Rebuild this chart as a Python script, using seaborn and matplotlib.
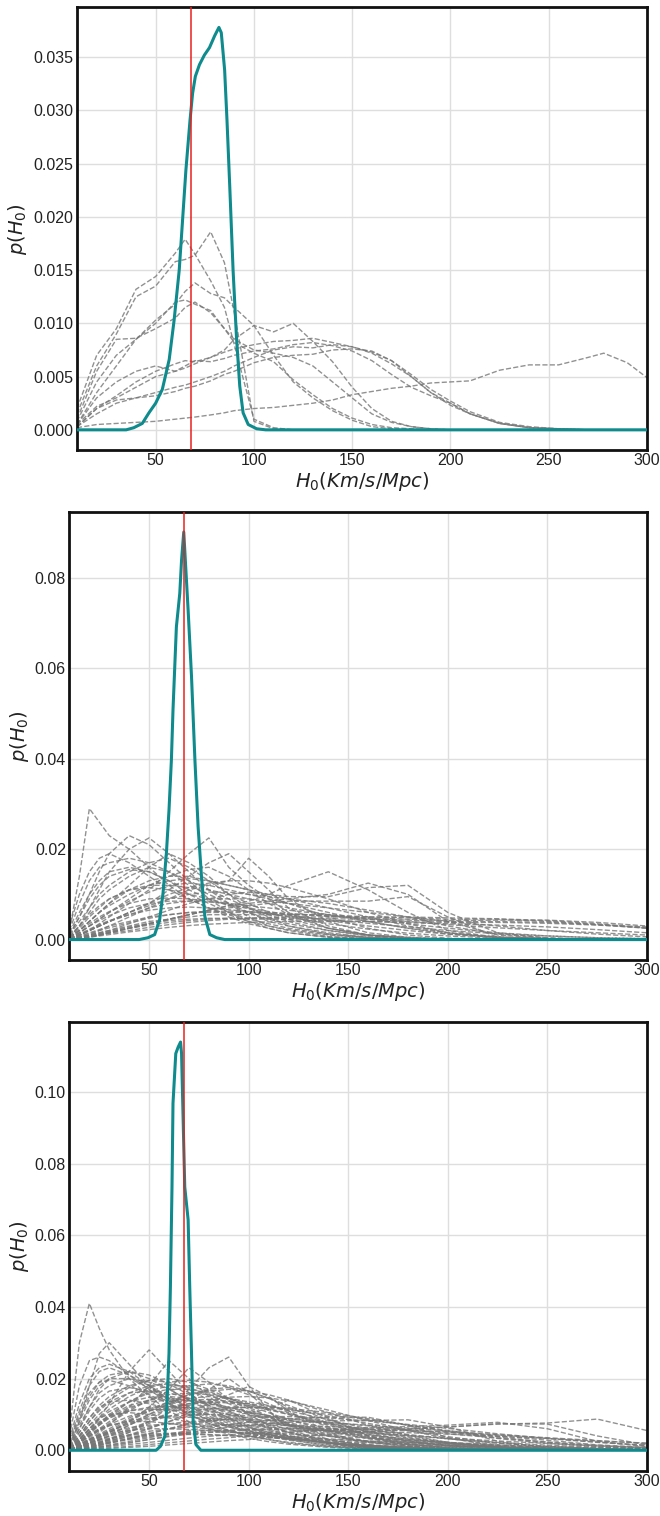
import numpy as np
import pandas as pd
import matplotlib
matplotlib.use("Agg")
import matplotlib.pyplot as plt
import seaborn as sns

# ---------------- data (p values in units of 1e-3) ----------------
H0_TRUE = 67.74
XTICKS = [50, 100, 150, 200, 250, 300]
YTICKS_1 = [0.000, 0.005, 0.010, 0.015, 0.020, 0.025, 0.030, 0.035]
YTICKS_2 = [0.00, 0.02, 0.04, 0.06, 0.08]
YTICKS_3 = [0.00, 0.02, 0.04, 0.06, 0.08, 0.10]

# panel 1 grey curves
X1 = [10, 20, 30, 40, 50, 60, 65, 70, 78, 85, 90, 100, 110, 120, 130, 140, 150,
      160, 170, 180, 190, 200, 210, 225, 240, 255, 270, 278, 290, 300]
GREY1 = [
    [1.5, 6, 9, 12.5, 13.5, 15.8, 16, 16.4, 18.6, 15.7, 11, 0.8, 0.1, 0, 0, 0, 0, 0, 0, 0, 0, 0, 0, 0, 0, 0, 0, 0, 0, 0],
    [2, 7, 9.5, 13.2, 14.4, 16.6, 17.9, 16.5, 14, 11.5, 8, 1, 0.2, 0, 0, 0, 0, 0, 0, 0, 0, 0, 0, 0, 0, 0, 0, 0, 0, 0],
    [0.8, 4.5, 7, 8.5, 10.3, 11.8, 13, 13.8, 12.8, 12.4, 11.5, 9.8, 7, 4.5, 3, 1.8, 0.9, 0.3, 0.1, 0, 0, 0, 0, 0, 0, 0, 0, 0, 0, 0],
    [0.5, 3.5, 6, 8.5, 10, 12, 12.2, 11.8, 11.2, 9.5, 8.2, 7.2, 6.4, 4.7, 3.3, 2, 1.1, 0.5, 0.2, 0.1, 0, 0, 0, 0, 0, 0, 0, 0, 0, 0],
    [0.3, 2, 3.2, 4.5, 5.5, 6.2, 6.5, 6.4, 6.8, 7.5, 8.5, 9.8, 9.2, 10, 8.3, 6.4, 4, 2, 0.8, 0.3, 0.1, 0, 0, 0, 0, 0, 0, 0, 0, 0],
    [0.5, 2.2, 3, 4, 5, 5.5, 5.8, 6.2, 6.8, 7.3, 7.6, 8, 8.3, 8.4, 8.6, 8.2, 7.8, 7.2, 6.2, 5, 3.5, 2.5, 1.5, 0.6, 0.2, 0.1, 0, 0, 0, 0],
    [0.3, 1.5, 2.5, 3, 3.5, 4, 4.2, 4.5, 5, 5.5, 6, 6.8, 7.5, 7.8, 7.7, 8, 7.8, 7.3, 6.5, 5.2, 3.8, 2.7, 1.7, 0.7, 0.3, 0.1, 0, 0, 0, 0],
    [0.2, 0.5, 0.6, 0.7, 0.8, 1, 1.1, 1.2, 1.4, 1.6, 1.8, 2, 2.1, 2.3, 2.5, 2.8, 3.3, 3.6, 3.9, 4.1, 4.4, 4.5, 4.6, 5.6, 6.1, 6.1, 6.8, 7.2, 6.3, 4.9],
    [0.5, 3, 4.5, 5.5, 6, 5.5, 6, 6.5, 6.4, 6.7, 7, 7.4, 7.6, 8, 8.2, 7.9, 7.4, 6.5, 5.2, 4, 3.2, 2.5, 1.5, 0.6, 0.2, 0.1, 0, 0, 0, 0],
    [0.3, 2, 2.8, 3, 3.2, 3.6, 3.9, 4.1, 4.6, 5.2, 5.5, 6.3, 6.8, 7, 7.1, 7.5, 7.6, 7.4, 6.5, 5, 3.5, 2.3, 1.5, 0.6, 0.2, 0.1, 0, 0, 0, 0],
    [1, 5.5, 8.5, 8.6, 9.5, 10.5, 11.5, 12, 11, 9.5, 8.5, 7.5, 7.2, 6.8, 6, 4.5, 3, 1.5, 0.7, 0.3, 0.1, 0, 0, 0, 0, 0, 0, 0, 0, 0],
]
TEAL1_X = [10, 35, 38.9, 43.2, 46.6, 50, 53.4, 56.9, 59.4, 62, 63.7, 65.4, 67.5, 68.8, 70.2,
           72.3, 74.8, 77.4, 80, 82.2, 83.4, 85.1, 86.3, 87.7, 89.4, 91.1, 92.8, 94.5, 97.1,
           101.4, 106, 300]
TEAL1_Y = [0, 0, 0.2, 0.6, 1.6, 2.5, 3.8, 6.6, 10.3, 15, 19.7, 24.4, 29.1, 31.6, 33.2,
           34.3, 35.2, 35.9, 37, 37.8, 37.3, 33.8, 29.1, 22.9, 15, 8.8, 4.1, 1.6, 0.5,
           0.1, 0, 0]

# panels 2 and 3 grey curves share a grid
X23 = [10, 15, 20, 25, 30, 40, 50, 60, 70, 80, 90, 100, 110, 120, 140, 160, 180, 200, 225, 250, 275, 300]
GREY2 = [
    [2, 14, 29, 26, 23, 20, 16, 12, 9, 7, 5, 3.5, 2.5, 1.5, 0.5, 0.2, 0.1, 0, 0, 0, 0, 0],
    [1, 5, 10, 15, 19, 23, 21, 17, 13, 9, 6, 4, 2.5, 1.5, 0.5, 0.1, 0, 0, 0, 0, 0, 0],
    [0.5, 3, 7, 11, 15, 20, 22.5, 19, 15, 11, 8, 5, 3, 2, 0.7, 0.2, 0, 0, 0, 0, 0, 0],
    [0.2, 1, 2, 3.5, 5, 8, 11, 15, 19, 22.5, 16, 12, 9, 6, 2.5, 1, 0.3, 0, 0, 0, 0, 0],
    [0.1, 0.5, 1, 2, 3, 5, 7, 9, 11, 12, 13, 18, 14, 9, 4, 1.5, 0.5, 0.1, 0, 0, 0, 0],
    [0.1, 0.3, 0.6, 1, 1.5, 2.5, 3.5, 4.5, 5.5, 6.5, 7.5, 8.5, 10, 12, 15, 11, 6, 2, 0.5, 0.1, 0, 0],
    [0.1, 0.3, 0.6, 1, 1.5, 2.5, 3.5, 4.5, 5.5, 6.5, 7.5, 8, 8.5, 9, 10, 12.5, 10, 4, 1, 0.2, 0, 0],
    [0.1, 0.5, 1, 1.5, 2, 3.5, 5, 6.5, 8, 9, 10, 10.5, 10, 9.5, 9.5, 11.5, 12, 6, 1.5, 0.3, 0, 0],
    [0.1, 0.3, 0.5, 1, 1.5, 2.5, 3.5, 4.5, 5.5, 6.5, 7, 7.5, 8, 8.5, 8.5, 8.5, 9.5, 5, 0.5, 0.1, 0, 0],
    [0.5, 2, 4, 6, 8, 12, 16, 19, 17, 14, 10, 7, 5, 3, 1.2, 0.4, 0.1, 0, 0, 0, 0, 0],
    [1, 4, 7, 10, 12, 15, 17, 18, 16, 13, 10, 8, 6, 4.5, 2.5, 1, 0.3, 0, 0, 0, 0, 0],
    [0.5, 3, 6, 9, 11, 14, 16, 15, 13, 11, 9, 7, 5.5, 4, 2, 0.8, 0.2, 0, 0, 0, 0, 0],
    [2, 8, 13, 16, 17, 18, 17, 15, 12, 10, 8, 6, 4, 3, 1.5, 0.5, 0.1, 0, 0, 0, 0, 0],
    [1, 5, 9, 12, 14, 15.5, 15, 13, 11, 9, 7.5, 6, 4.5, 3.5, 2, 1, 0.5, 0.2, 0, 0, 0, 0],
    [0.3, 1, 2, 3, 4, 6, 8, 11, 14, 17, 19, 15, 11, 7, 3, 1, 0.3, 0, 0, 0, 0, 0],
    [0.5, 2, 4, 6, 7.5, 10, 12, 13, 13.5, 13, 12, 11, 10, 9, 7, 5, 3, 1.5, 0.5, 0.1, 0, 0],
    [0.3, 1.5, 3, 4.5, 6, 8.5, 10.5, 12, 12.5, 12, 11, 10, 9, 8, 6, 4, 2.5, 1.2, 0.4, 0.1, 0, 0],
    [0.5, 2.5, 5, 7, 9, 11, 12, 12, 11.5, 11, 10, 9, 8, 7, 5.5, 4, 2.5, 1.5, 0.5, 0.2, 0, 0],
    [0.2, 1, 2, 3, 4, 6, 7.5, 9, 10, 10.5, 10.5, 10, 9.5, 9, 8, 6.5, 5, 3, 1.2, 0.4, 0.1, 0],
    [0.2, 1, 2, 3, 4, 5.5, 7, 8, 8.5, 9, 9, 9, 8.5, 8, 7, 6, 5, 4, 3, 2, 1.2, 0.6],
    [0.1, 0.5, 1, 1.5, 2, 3, 4, 4.5, 5, 5.5, 5.5, 5.5, 5.5, 5.5, 5.5, 5, 5, 4.8, 4.6, 4.2, 3.5, 2.5],
    [0.1, 0.4, 0.8, 1.2, 1.7, 2.5, 3.2, 3.8, 4.2, 4.5, 4.7, 4.8, 4.9, 5, 5, 5, 4.8, 4.5, 4.5, 4, 3.3, 2.5],
    [0.1, 0.3, 0.6, 1, 1.4, 2, 2.7, 3.3, 3.8, 4.2, 4.5, 4.6, 4.7, 4.7, 4.6, 4.5, 4.3, 4, 4, 3.8, 3.3, 2.8],
    [0.1, 0.3, 0.5, 0.8, 1.1, 1.7, 2.2, 2.7, 3.1, 3.4, 3.6, 3.8, 3.9, 4, 4, 4, 3.9, 3.8, 3.8, 3.6, 3.2, 2.6],
    [0.2, 0.8, 1.5, 2.2, 3, 4, 5, 5.5, 6, 6, 6, 6, 5.8, 5.6, 5.2, 4.8, 4.5, 4.2, 4.3, 4.3, 3.8, 3],
    [0.1, 0.4, 0.8, 1.3, 1.8, 2.8, 3.6, 4.2, 4.5, 4.7, 4.7, 4.6, 4.5, 4.4, 4.2, 4, 3.7, 3.5, 3.2, 2.8, 2.2, 1.5],
    [0.3, 1.2, 2.3, 3.3, 4.2, 5.5, 6.5, 7, 7.2, 7, 6.6, 6.2, 5.7, 5.2, 4.4, 3.6, 2.8, 2, 1.3, 0.8, 0.4, 0.2],
    [0.5, 2, 3.5, 5, 6.2, 8, 9, 9.2, 9, 8.5, 7.8, 7, 6.2, 5.5, 4.2, 3, 2, 1.2, 0.6, 0.2, 0.1, 0],
    [0.8, 3, 5.5, 7.5, 9, 11, 11.5, 11, 10, 9, 7.8, 6.8, 5.8, 5, 3.5, 2.3, 1.4, 0.8, 0.3, 0.1, 0, 0],
    [0.4, 1.5, 3, 4.2, 5.3, 7, 8, 8.5, 8.5, 8.3, 8, 7.5, 7, 6.5, 5.5, 4.5, 3.5, 2.5, 1.5, 0.8, 0.4, 0.2],
    [0.2, 0.7, 1.3, 2, 2.6, 3.7, 4.7, 5.5, 6, 6.2, 6.3, 6.2, 6, 5.8, 5.2, 4.6, 4, 3.3, 2.6, 2, 1.5, 1],
    [1.5, 6, 10, 13, 15, 16, 15, 13, 10, 8, 6, 4.5, 3.5, 2.5, 1.2, 0.5, 0.2, 0, 0, 0, 0, 0],
    [3, 10, 15, 18, 19, 17, 14, 11, 9, 7, 5.5, 4, 3, 2.2, 1, 0.4, 0.1, 0, 0, 0, 0, 0],
    [0.3, 1.5, 3, 4.5, 6, 9, 12, 14, 15.5, 16, 14, 11, 8, 5.5, 2.5, 1, 0.3, 0, 0, 0, 0, 0],
    [0.5, 2, 4, 6, 8, 11, 13, 14, 14, 13, 12, 11, 9.5, 8, 5, 2.5, 1, 0.3, 0, 0, 0, 0],
    [0.3, 1, 2, 3, 4, 6, 8, 10, 11.5, 12.5, 13, 13, 12.5, 11.5, 9, 6, 3.5, 1.5, 0.4, 0.1, 0, 0],
]
TEAL2_X = [10, 45, 49.4, 52.8, 55.3, 57, 58.7, 60, 61.2, 62, 63.7, 65.4, 66.3, 67.4,
           69.6, 71.3, 73, 74.6, 76.3, 78, 80.5, 83.9, 88, 300]
TEAL2_Y = [0, 0, 0.4, 1.1, 4.4, 10.3, 19.2, 28.7, 39.8, 50.8, 69.2, 76.6, 84, 90.2,
           72.9, 58.2, 39.8, 25, 14, 5.1, 1.1, 0.4, 0, 0]

GREY3 = [
    [5, 30, 41, 34, 28, 20, 15, 11, 8, 6, 4.5, 3.3, 2.4, 1.7, 0.8, 0.3, 0.1, 0, 0, 0, 0, 0],
    [1, 8, 18, 27, 30, 24, 18, 13, 10, 7.5, 5.5, 4, 3, 2, 1, 0.4, 0.1, 0, 0, 0, 0, 0],
    [0.3, 2, 5, 9, 13, 22, 28, 22, 16, 12, 9, 6.5, 4.5, 3, 1.3, 0.5, 0.1, 0, 0, 0, 0, 0],
    [0.2, 1, 3, 5, 7, 12, 18, 25, 20, 15, 11, 8, 6, 4, 1.8, 0.6, 0.2, 0, 0, 0, 0, 0],
    [0.2, 1, 2, 3.5, 5, 8, 12, 17, 23, 19, 14, 10, 7, 5, 2.2, 0.8, 0.2, 0, 0, 0, 0, 0],
    [0.1, 0.5, 1, 2, 3, 5, 8, 12, 17, 23, 26, 18, 11, 6, 2, 0.6, 0.1, 0, 0, 0, 0, 0],
    [0.1, 0.5, 1.2, 2, 3, 5, 7.5, 10.5, 14, 17, 20, 16, 11, 7, 3, 1, 0.3, 0, 0, 0, 0, 0],
    [0.1, 0.4, 0.9, 1.5, 2.3, 4, 6, 8, 10.5, 13, 15.5, 17.8, 15, 11, 5, 1.5, 0.4, 0, 0, 0, 0, 0],
    [0.1, 0.4, 0.8, 1.3, 2, 3.2, 4.5, 6, 7.5, 8.5, 9.5, 10.5, 11.5, 14, 9, 4, 1.2, 0.3, 0, 0, 0, 0],
    [0.1, 0.3, 0.6, 1, 1.5, 2.5, 3.5, 4.5, 5.5, 6.5, 7.2, 7.8, 8.3, 8.7, 9.3, 9.2, 7, 3.5, 1, 0.2, 0, 0],
    [0.1, 0.3, 0.5, 0.8, 1.2, 2, 3, 4, 5, 5.8, 6.4, 7, 7.4, 7.8, 8.2, 8.3, 8.5, 6.5, 2.5, 0.6, 0.1, 0],
    [0, 0.1, 0.2, 0.3, 0.5, 0.8, 1.1, 1.5, 1.9, 2.3, 2.7, 3, 3.4, 3.8, 4.5, 5.2, 5.8, 6.5, 7.3, 7.6, 8.7, 5.5],
    [0, 0.1, 0.3, 0.5, 0.7, 1.1, 1.6, 2.1, 2.6, 3.1, 3.5, 4, 4.4, 4.9, 5.7, 6.3, 6.6, 7, 7.8, 6, 2.5, 1],
    [0.1, 0.2, 0.4, 0.7, 1, 1.6, 2.2, 2.8, 3.4, 3.9, 4.3, 4.7, 5, 5.3, 5.6, 5.8, 6, 6.5, 7.4, 7.3, 4, 1.5],
    [0.1, 0.3, 0.6, 1, 1.4, 2.2, 3, 3.8, 4.5, 5, 5.5, 5.8, 6, 6.1, 6, 5.8, 5.4, 5, 4, 2.8, 1.5, 0.8],
    [2, 9, 15, 19, 21, 22, 20, 17, 14, 11, 8.5, 6.5, 5, 3.8, 2, 1, 0.4, 0.1, 0, 0, 0, 0],
    [1.5, 7, 12, 16, 18, 20, 19, 17, 14, 11.5, 9, 7, 5.5, 4, 2.2, 1.1, 0.5, 0.2, 0, 0, 0, 0],
    [1, 5, 9, 12.5, 15, 18, 19.5, 19, 17, 14, 11, 8.5, 6.5, 5, 2.8, 1.4, 0.6, 0.2, 0, 0, 0, 0],
    [0.7, 3.5, 7, 10, 12.5, 16, 18, 18.5, 17.5, 15.5, 13, 10.5, 8.5, 6.8, 4, 2.2, 1, 0.4, 0.1, 0, 0, 0],
    [0.5, 2.5, 5, 7.5, 10, 13.5, 16, 17, 17, 16, 14.5, 12.5, 10.5, 8.5, 5.5, 3.2, 1.6, 0.7, 0.2, 0, 0, 0],
    [0.4, 2, 4, 6, 8, 11.5, 14, 15.5, 16, 15.5, 14.5, 13, 11.5, 10, 7, 4.5, 2.5, 1.2, 0.4, 0.1, 0, 0],
    [0.3, 1.5, 3, 4.5, 6, 9, 11.5, 13.5, 14.5, 15, 14.5, 13.5, 12.5, 11, 8.5, 6, 3.8, 2.2, 0.9, 0.3, 0.1, 0],
    [0.3, 1.2, 2.5, 3.8, 5, 7.5, 10, 12, 13, 13.5, 13.5, 13, 12.3, 11.5, 9.5, 7.5, 5.5, 3.8, 2, 1, 0.4, 0.1],
    [0.2, 1, 2, 3, 4, 6, 8, 9.5, 10.8, 11.5, 12, 12, 11.8, 11.3, 10, 8.5, 7, 5.5, 3.7, 2.2, 1.2, 0.5],
    [3, 13, 20, 23, 24, 22, 18, 14, 11, 8.5, 6.5, 5, 3.8, 2.8, 1.5, 0.7, 0.3, 0.1, 0, 0, 0, 0],
    [2.5, 11, 18, 22, 23, 21, 18, 15, 12, 9.5, 7.5, 6, 4.5, 3.5, 2, 1, 0.4, 0.1, 0, 0, 0, 0],
    [4, 18, 25, 26, 25, 21, 17, 13, 10, 7.5, 5.5, 4, 3, 2.2, 1.1, 0.5, 0.2, 0, 0, 0, 0, 0],
    [1, 6, 12, 17, 20, 22, 21, 18.5, 15.5, 12.5, 10, 8, 6.3, 5, 2.9, 1.6, 0.8, 0.3, 0.1, 0, 0, 0],
    [0.8, 4, 8, 11.5, 14, 17.5, 19.5, 20, 19, 17, 14.5, 12, 9.5, 7.5, 4.5, 2.5, 1.2, 0.5, 0.1, 0, 0, 0],
    [0.5, 3, 6, 9, 11.5, 15, 17.5, 19, 19.5, 19, 17.5, 15.5, 13, 10.5, 6.5, 3.5, 1.7, 0.7, 0.2, 0, 0, 0],
    [0.3, 1.5, 3.5, 5.5, 7.5, 11, 14, 16.5, 18, 18.5, 18, 16.5, 14.5, 12.5, 8.5, 5, 2.6, 1.2, 0.4, 0.1, 0, 0],
    [0.2, 1, 2.2, 3.6, 5, 8, 11, 13.5, 15.5, 16.5, 17, 16.5, 15.5, 14, 10.5, 7, 4.2, 2.2, 0.8, 0.2, 0.1, 0],
    [0.5, 2.5, 5, 7, 9, 12, 13.5, 14, 13.8, 13, 12, 10.8, 9.6, 8.4, 6.2, 4.4, 3, 1.9, 1, 0.5, 0.2, 0.1],
    [0.4, 2, 4, 5.7, 7.2, 9.5, 11, 11.8, 12, 11.8, 11.2, 10.5, 9.7, 8.9, 7.3, 5.8, 4.4, 3.2, 2, 1.1, 0.5, 0.2],
    [0.3, 1.5, 3, 4.3, 5.5, 7.4, 8.7, 9.5, 9.9, 10, 9.9, 9.6, 9.2, 8.8, 7.8, 6.8, 5.7, 4.6, 3.4, 2.3, 1.4, 0.7],
    [0.2, 1, 2, 3, 3.9, 5.4, 6.6, 7.4, 8, 8.3, 8.5, 8.5, 8.4, 8.2, 7.7, 7, 6.2, 5.4, 4.3, 3.3, 2.3, 1.4],
    [0.2, 0.8, 1.6, 2.4, 3.1, 4.3, 5.3, 6, 6.5, 6.8, 7, 7, 7, 6.9, 6.6, 6.2, 5.7, 5.1, 4.3, 3.5, 2.7, 1.9],
    [0.1, 0.6, 1.2, 1.8, 2.3, 3.3, 4.1, 4.7, 5.1, 5.4, 5.6, 5.7, 5.7, 5.7, 5.5, 5.2, 4.9, 4.5, 3.9, 3.3, 2.6, 2],
    [0.8, 4, 8, 11, 13.5, 16, 16.5, 16, 14.5, 12.5, 10.5, 8.7, 7.2, 5.9, 3.9, 2.5, 1.5, 0.9, 0.4, 0.2, 0.1, 0],
    [0.6, 3, 6, 8.7, 10.8, 13.5, 14.8, 15, 14.5, 13.3, 12, 10.5, 9, 7.7, 5.4, 3.6, 2.3, 1.4, 0.7, 0.3, 0.1, 0],
    [1.2, 6, 11, 14.5, 16.5, 17.5, 16.5, 14.5, 12.2, 10, 8, 6.4, 5, 3.9, 2.3, 1.3, 0.7, 0.3, 0.1, 0, 0, 0],
    [0.2, 1.2, 2.5, 4, 5.5, 8.5, 11, 13, 14, 14.2, 13.7, 12.8, 11.6, 10.3, 7.7, 5.4, 3.5, 2.1, 1, 0.4, 0.1, 0],
    [0.1, 0.6, 1.3, 2.2, 3.2, 5.5, 8, 10.5, 12.5, 14, 14.8, 15, 14.6, 13.8, 11.2, 8.3, 5.5, 3.3, 1.5, 0.6, 0.2, 0],
    [0.1, 0.5, 1.1, 1.8, 2.6, 4.3, 6.2, 8, 9.6, 10.8, 11.6, 12, 12, 11.7, 10.5, 8.8, 7, 5.2, 3.3, 1.9, 1, 0.4],
    [0.1, 0.4, 0.9, 1.4, 2, 3.3, 4.7, 6, 7.2, 8.1, 8.8, 9.2, 9.4, 9.4, 9, 8.2, 7.2, 6.1, 4.6, 3.3, 2.2, 1.3],
    [1.5, 8, 14, 18, 20, 20, 17.5, 14.5, 11.5, 9, 7, 5.5, 4.3, 3.3, 1.9, 1, 0.5, 0.2, 0, 0, 0, 0],
    [0.3, 2, 4.5, 7, 9.5, 13.5, 16.5, 18, 18, 16.5, 14, 11.5, 9.2, 7.2, 4.2, 2.3, 1.1, 0.5, 0.1, 0, 0, 0],
    [0.1, 0.7, 1.6, 2.8, 4, 7, 10, 13, 15.5, 17, 17.5, 16.5, 14.5, 12, 7.5, 4, 1.8, 0.7, 0.2, 0, 0, 0],
    [0.2, 1, 2, 3.2, 4.5, 7, 9.5, 11.5, 13, 13.5, 13.2, 12.4, 11.3, 10, 7.5, 5.2, 3.3, 1.9, 0.8, 0.3, 0.1, 0],
    [0.5, 3, 6, 8, 9.5, 11, 11.5, 11.3, 10.8, 10, 9.2, 8.4, 7.6, 6.8, 5.4, 4.2, 3.1, 2.2, 1.3, 0.7, 0.3, 0.1],
    [0.4, 2, 4, 5.6, 6.8, 8.3, 9, 9.3, 9.2, 8.9, 8.5, 8, 7.5, 7, 6, 5, 4.1, 3.2, 2.2, 1.4, 0.8, 0.4],
    [0.3, 1.5, 3, 4.2, 5.1, 6.3, 7, 7.3, 7.4, 7.3, 7.1, 6.8, 6.5, 6.2, 5.5, 4.8, 4.1, 3.4, 2.6, 1.9, 1.2, 0.7],
    [2, 10, 16, 19, 19.5, 18, 15.5, 13, 10.5, 8.5, 6.8, 5.4, 4.3, 3.4, 2.1, 1.3, 0.8, 0.4, 0.2, 0.1, 0, 0],
    [0.5, 2.5, 5, 7.5, 9.5, 12.5, 14, 14.5, 14, 13, 11.5, 10, 8.5, 7.2, 5, 3.4, 2.2, 1.4, 0.7, 0.3, 0.1, 0],
    [0.3, 1.5, 2.8, 3.8, 4.6, 5.6, 6, 6, 5.8, 5.5, 5.1, 4.7, 4.3, 3.9, 3.2, 2.5, 1.9, 1.4, 0.9, 0.5, 0.3, 0.1],
    [0.2, 1, 2, 2.8, 3.4, 4.2, 4.6, 4.7, 4.6, 4.4, 4.1, 3.8, 3.5, 3.2, 2.6, 2.1, 1.6, 1.2, 0.8, 0.5, 0.3, 0.1],
    [0.5, 2.5, 4.5, 6, 7, 8, 8, 7.5, 6.8, 6, 5.2, 4.5, 3.8, 3.2, 2.2, 1.4, 0.9, 0.5, 0.2, 0.1, 0, 0],
    [0.8, 4, 7, 9, 10, 10.5, 10, 9, 7.8, 6.6, 5.5, 4.6, 3.8, 3.1, 2, 1.2, 0.7, 0.3, 0.1, 0, 0, 0],
    [0.1, 0.5, 1, 1.5, 2, 3, 3.8, 4.4, 4.8, 5, 5, 4.9, 4.7, 4.5, 4, 3.4, 2.8, 2.2, 1.5, 1, 0.6, 0.3],
    [1, 5, 9, 12, 13.5, 14, 13, 11.5, 9.7, 8, 6.5, 5.2, 4.2, 3.3, 2, 1.1, 0.6, 0.3, 0.1, 0, 0, 0],
    [0.6, 3, 5.5, 7.5, 9, 11, 12, 12.2, 11.8, 11, 10, 9, 8, 7.1, 5.4, 3.9, 2.7, 1.7, 0.9, 0.4, 0.2, 0.1],
    [0.2, 0.8, 1.5, 2.2, 2.8, 3.7, 4.2, 4.4, 4.4, 4.3, 4.1, 3.9, 3.7, 3.5, 3, 2.6, 2.2, 1.8, 1.3, 0.9, 0.6, 0.3],
]
TEAL3_X = [10, 53.5, 55.7, 57.9, 59, 60, 60.7, 61.5, 62, 63.4, 64.6, 65.8, 66.3, 67.1,
           67.9, 69.6, 70.4, 71.3, 72.1, 73.5, 76, 300]
TEAL3_Y = [0, 0, 1.1, 3.9, 13.2, 27.1, 45.7, 73.5, 96.8, 110.7, 112.5, 113.9, 110.7, 92.1,
           73.5, 64.3, 45.7, 27.1, 8.6, 1.6, 0, 0]

MILLI = 1e-3


def grey_frame(xgrid, curves):
    rows = []
    for i, c in enumerate(curves):
        for xv, yv in zip(xgrid, c):
            rows.append((i, xv, yv * MILLI))
    return pd.DataFrame(rows, columns=["curve", "H0", "p"])


# ---------------- style ----------------
sns.set_theme(style="whitegrid")
plt.rcParams["font.family"] = ["Liberation Sans", "DejaVu Sans"]
plt.rcParams["mathtext.fontset"] = "dejavusans"

fig = plt.figure(figsize=(6.6, 15.16), dpi=100)
boxes = [
    [0.1167, 0.7032, 0.9803 - 0.1167, 0.9952 - 0.7032],
    [0.1052, 0.3668, 0.9803 - 0.1052, 0.6625 - 0.3668],
    [0.1052, 0.0299, 0.9803 - 0.1052, 0.3261 - 0.0299],
]
panels = [
    (X1, GREY1, TEAL1_X, TEAL1_Y, YTICKS_1, "{:.3f}"),
    (X23, GREY2, TEAL2_X, TEAL2_Y, YTICKS_2, "{:.2f}"),
    (X23, GREY3, TEAL3_X, TEAL3_Y, YTICKS_3, "{:.2f}"),
]

for box, (xg, grey, tx, ty, yt, fmt) in zip(boxes, panels):
    ax = fig.add_axes(box)
    gdf = grey_frame(xg, grey)
    sns.lineplot(data=gdf, x="H0", y="p", units="curve", estimator=None,
                 color="#767676", linestyle="--", linewidth=1.0, alpha=0.8,
                 legend=False, ax=ax)
    tdf = pd.DataFrame({"H0": tx, "p": [v * MILLI for v in ty]})
    sns.lineplot(data=tdf, x="H0", y="p", color="#0f8b8d", linewidth=2.2,
                 estimator=None, legend=False, ax=ax, zorder=5)
    ax.axvline(H0_TRUE, color="#e8201e", linewidth=1.1, zorder=6)
    ax.set_xlim(10, 300)
    ytop = max(v * MILLI for v in ty)
    ax.set_ylim(-0.05 * ytop, 1.05 * ytop)
    ax.set_xticks(XTICKS)
    ax.set_xticklabels([str(v) for v in XTICKS])
    ax.set_yticks(yt)
    ax.set_yticklabels([fmt.format(v) for v in yt])
    ax.tick_params(axis="both", labelsize=11.5, colors="#222222", length=0, pad=2.5)
    ax.grid(True, color="#dedede", linewidth=1.0)
    ax.set_axisbelow(True)
    for s in ax.spines.values():
        s.set_color("#111111")
        s.set_linewidth(2.0)
    ax.set_xlabel(r"$H_0(Km/s/Mpc)$", fontsize=14, labelpad=1, color="#222222")
    ax.set_ylabel(r"$p(H_0)$", fontsize=14, labelpad=3, color="#222222")

fig.savefig("out.png", dpi=100, facecolor="white")
